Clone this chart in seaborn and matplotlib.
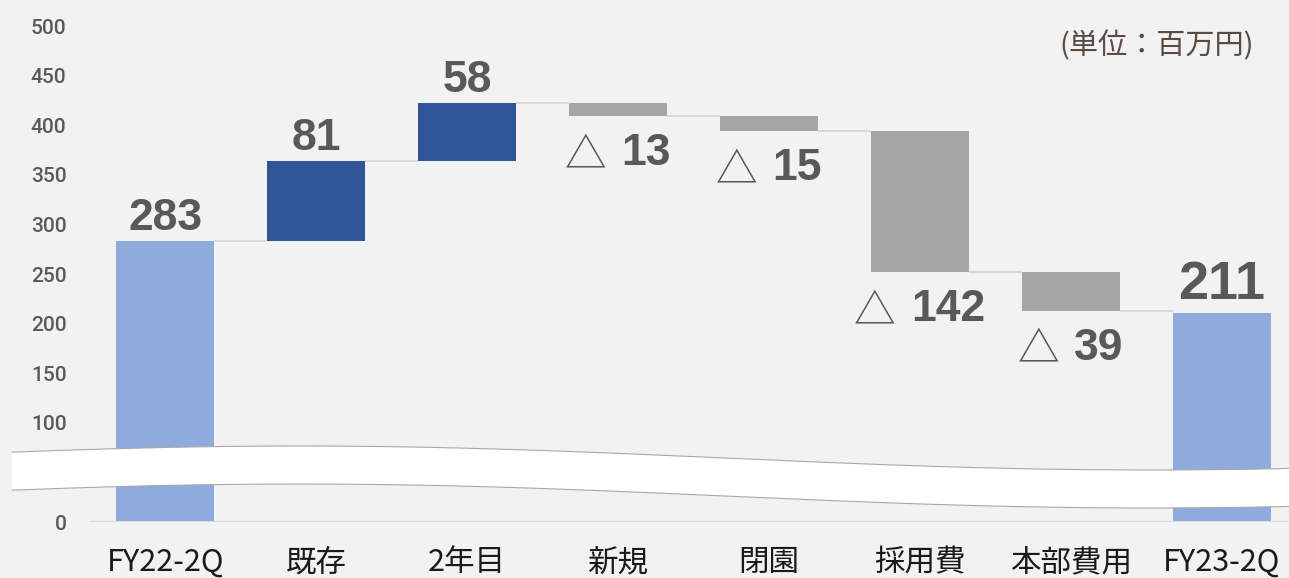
import numpy as np
import matplotlib
matplotlib.use("Agg")
import matplotlib.pyplot as plt
import seaborn as sns
from matplotlib.patches import Polygon

# ---------------- data ----------------
categories = ['FY22-2Q', '既存', '2年目', '新規', '閉園', '採用費', '本部費用', 'FY23-2Q']
start_value = 283
changes = [81, 58, -13, -15, -142, -39]
end_value = 211
y_ticks = [0, 100, 150, 200, 250, 300, 350, 400, 450, 500]
unit_label = '(単位：百万円)'

# ---------------- derived waterfall geometry ----------------
tops, bottoms, kinds = [start_value], [0], ['total']
running = start_value
for c in changes:
    new = running + c
    tops.append(max(running, new))
    bottoms.append(min(running, new))
    kinds.append('up' if c > 0 else 'down')
    running = new
tops.append(end_value)
bottoms.append(0)
kinds.append('total')
levels = [start_value]
r = start_value
for c in changes:
    r += c
    levels.append(r)
levels.append(end_value)

BG = '#F2F2F2'
col_map = {'total': '#8FAADC', 'up': '#2F5597', 'down': '#A5A5A5'}
colors = [col_map[k] for k in kinds]
TXT = '#595959'

sns.set_style('white')
plt.rcParams['font.family'] = ['Liberation Sans', 'Noto Sans CJK JP', 'DejaVu Sans']

W, H = 1289, 578
fig = plt.figure(figsize=(W / 100, H / 100), dpi=100, facecolor=BG)
ax = fig.add_axes([90 / W, 56 / H, 1207 / W, 496 / H])
ax.set_facecolor(BG)

df_x = categories
sns.barplot(x=df_x, y=tops, hue=df_x, palette=colors, width=0.65, saturation=1,
            legend=False, ax=ax, zorder=2, linewidth=0, edgecolor='none')
sns.barplot(x=df_x, y=bottoms, color=BG, width=0.67, saturation=1,
            ax=ax, zorder=3, linewidth=0, edgecolor='none')

# connector lines
hw = 0.65 / 2
for i in range(len(categories) - 1):
    lvl = levels[i]
    ax.plot([i + hw, i + 1 - hw], [lvl, lvl], color='#D6D6D6', lw=1.3, zorder=4,
            solid_capstyle='butt')

ax.axhline(0, color='#D9D9D9', lw=1.5, zorder=5)

ax.set_xlim(-0.5, len(categories) - 0.5)
ax.set_ylim(0, 500)
ax.set_yticks(y_ticks)
ax.set_yticklabels([str(t) for t in y_ticks])
for s in ax.spines.values():
    s.set_visible(False)
ax.tick_params(axis='y', length=0, pad=17, labelsize=15, labelcolor=TXT)
ax.tick_params(axis='x', length=0, pad=18, labelsize=22, labelcolor='#1A1A1A')
for lab in ax.get_yticklabels():
    lab.set_fontfamily('Roboto')
    lab.set_fontweight('medium')
for lab in ax.get_xticklabels():
    lab.set_fontfamily(['Noto Sans CJK JP', 'DejaVu Sans'])
ax.set_xlabel('')
ax.set_ylabel('')

# value labels
all_vals = [start_value] + changes + [end_value]
num_texts = []
for i, v in enumerate(all_vals):
    if kinds[i] == 'down':
        t = ax.annotate(str(abs(v)), xy=(i, bottoms[i]), xytext=(28, -49),
                        textcoords='offset pixels', ha='center', va='baseline',
                        fontsize=32, fontweight='bold', color=TXT,
                        family='Liberation Sans', zorder=6)
        num_texts.append((i, t))
    else:
        last = i == len(all_vals) - 1
        fs = 39 if last else 32
        ax.annotate(str(v), xy=(i, tops[i]), xytext=(0, 14 if last else 11),
                    textcoords='offset pixels', ha='center', va='baseline',
                    fontsize=fs, fontweight='bold', color=TXT,
                    family='Liberation Sans', zorder=6)

fig.canvas.draw()
for i, t in num_texts:
    ax.annotate('△', xy=(0, 0.19), xycoords=t, xytext=(-15, -1),
                textcoords='offset pixels', ha='right', va='baseline',
                fontsize=30, color=TXT, family=['Noto Sans CJK JP', 'DejaVu Sans'],
                zorder=6)

# axis-break wave (decoration, in pixel space)
xs = np.linspace(12, W, 300)
top_edge = 458 - 12 * np.cos(np.pi * (xs - 300) / 850)
bot_edge = top_edge + 38
poly = np.vstack([np.column_stack([xs, top_edge]),
                  np.column_stack([xs[::-1], bot_edge[::-1]])])
poly_fig = np.column_stack([poly[:, 0] / W, (H - poly[:, 1]) / H])
fig.patches.append(Polygon(poly_fig, closed=True, transform=fig.transFigure,
                           facecolor='white', edgecolor='none', zorder=10))
fig.lines.append(plt.Line2D(xs / W, (H - top_edge) / H, transform=fig.transFigure,
                            color='#A8A8A8', lw=0.8, zorder=11))
fig.lines.append(plt.Line2D(xs / W, (H - bot_edge) / H, transform=fig.transFigure,
                            color='#A8A8A8', lw=0.8, zorder=11))

fig.text(1157 / W, (H - 46) / H, unit_label, ha='center', va='center',
         fontsize=21, color='#594A44', family=['Noto Sans CJK JP', 'DejaVu Sans'])

fig.savefig('out.png', dpi=100, facecolor=BG)
